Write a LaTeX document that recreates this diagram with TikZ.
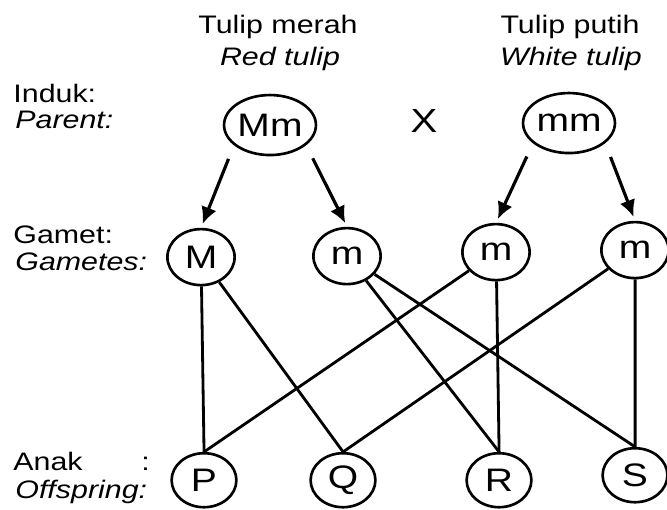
\documentclass[tikz,border=0pt]{standalone}
\usepackage{fontspec}
\setmainfont{Liberation Sans}
\usepackage{tikz}
\usetikzlibrary{arrows.meta,shapes.geometric}

\tikzset{
  teks/.style={inner sep=0pt, font=\fontsize{14.4}{17}\selectfont},
  induk/.style={ellipse, draw, line width=1.5pt, minimum width=1.4cm, minimum height=1.2cm, inner sep=0pt, font=\fontsize{18.5}{20}\selectfont},
  bulat/.style={circle, draw, line width=1.5pt, minimum size=1.12cm, inner sep=0pt, font=\fontsize{18.5}{20}\selectfont},
  garis/.style={line width=1.6pt},
  pil/.style={line width=1.8pt, -{Latex[length=0.34cm,width=0.32cm]}, shorten <=0.29cm, shorten >=0.08cm}
}

\begin{document}
\begin{tikzpicture}[x=0.016667cm, y=-0.02cm, xscale=1.2, transform shape]
\useasboundingbox[fill=white] (0,0) rectangle (667,509);

\node[teks, anchor=base] (judul1) at (278,33) {Tulip merah};
\node[teks, anchor=base] (terj1) at (280,65) {\itshape Red tulip};
\node[teks, anchor=base] (judul2) at (570,33) {Tulip putih};
\node[teks, anchor=base] (terj2) at (571,65) {\itshape White tulip};

\node[teks, anchor=base west] (lbinduk) at (13,102) {Induk:};
\node[teks, anchor=base west] (lbparent) at (15,128) {\itshape Parent:};
\node[teks, anchor=base west] (lbgamet) at (13,243) {Gamet:};
\node[teks, anchor=base west] (lbgametes) at (15,270) {\itshape Gametes:};
\node[teks, anchor=base west] (lbanak) at (13,470) {Anak};
\node[teks, anchor=base west] (lbtitik) at (141,470) {:};
\node[teks, anchor=base west] (lbanakk) at (15,498) {\itshape Offspring:};

\node[induk] (merah) at (270,125) {Mm};
\node[induk] (putih) at (569,123) {mm};
\node[inner sep=0pt, font=\fontsize{19}{21}\selectfont] (silang) at (424,121) {X};

\node[bulat] (g1) at (201,257) {M};
\node[bulat] (g2) at (347,256) {m};
\node[bulat] (g3) at (496,252) {m};
\node[bulat] (g4) at (635,250) {m};

\node[bulat, minimum size=1.08cm] (P) at (204,480) {P};
\node[bulat, minimum size=1.08cm] (Q) at (343,480) {Q};
\node[bulat, minimum size=1.08cm] (R) at (499,480) {R};
\node[bulat, minimum size=1.08cm] (S) at (635,475) {S};

\draw[pil] (merah.214) -- (g1.north);
\draw[pil] (merah.326) -- (g2.north);
\draw[pil] (putih.214) -- (g3.north);
\draw[pil] (putih.326) -- (g4.north);

\draw[garis] (g1) -- (P.north);
\draw[garis] (g1) -- (Q.north);
\draw[garis] (g2) -- (R.north);
\draw[garis] (g2) -- (S.north);
\draw[garis] (g3) -- (P.north);
\draw[garis] (g3) -- (R.north);
\draw[garis] (g4) -- (Q.north);
\draw[garis] (g4) -- (S.north);
\end{tikzpicture}
\end{document}
